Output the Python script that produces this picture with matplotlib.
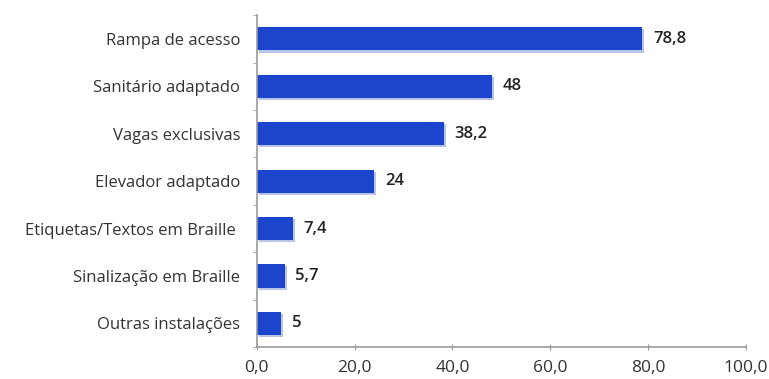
import matplotlib.pyplot as plt
import matplotlib.patheffects as pe
import numpy as np

categorias = ["Rampa de acesso", "Sanitário adaptado", "Vagas exclusivas",
              "Elevador adaptado", "Etiquetas/Textos em Braille ",
              "Sinalização em Braille", "Outras instalações"]
valores = [78.8, 48, 38.2, 24, 7.4, 5.7, 5]
rotulos = ["78,8", "48", "38,2", "24", "7,4", "5,7", "5"]
xticks = [0, 20, 40, 60, 80, 100]

plt.rcParams['font.family'] = ['Open Sans', 'DejaVu Sans']

fig = plt.figure(figsize=(7.69, 3.79), dpi=100)
ax = fig.add_axes([0.334, 0.084, 0.636, 0.876])

y = np.arange(len(categorias))
bars = ax.barh(y, valores, height=0.49, color='#1b45cc')
for b in bars:
    b.set_path_effects([pe.SimplePatchShadow(offset=(1.5, -1.5), shadow_rgbFace='#8a9bd8', alpha=0.6), pe.Normal()])

for yi, v, t in zip(y, valores, rotulos):
    ax.text(v + 2.2, yi, t, va='center', ha='left', fontsize=12, color='#222222', fontweight='semibold')

ax.set_ylim(len(categorias) - 0.5, -0.5)
ax.set_xlim(0, 100)
ax.set_yticks(y)
ax.set_yticklabels(categorias, fontsize=12, color='#333333')
ax.set_yticks(np.arange(-0.5, len(categorias)), minor=True)
ax.tick_params(axis='y', which='major', length=0, pad=12)
ax.tick_params(axis='y', which='minor', length=3, color='#999999', direction='out')

ax.set_xticks(xticks)
ax.set_xticklabels([f"{t:.1f}".replace('.', ',') for t in xticks], fontsize=12.5, color='#333333')
ax.tick_params(axis='x', length=5, color='#999999', direction='inout', pad=7)

for s in ['top', 'right']:
    ax.spines[s].set_visible(False)
for s in ['left', 'bottom']:
    ax.spines[s].set_color('#999999')
    ax.spines[s].set_linewidth(1.2)

fig.savefig('out.png', dpi=100)
